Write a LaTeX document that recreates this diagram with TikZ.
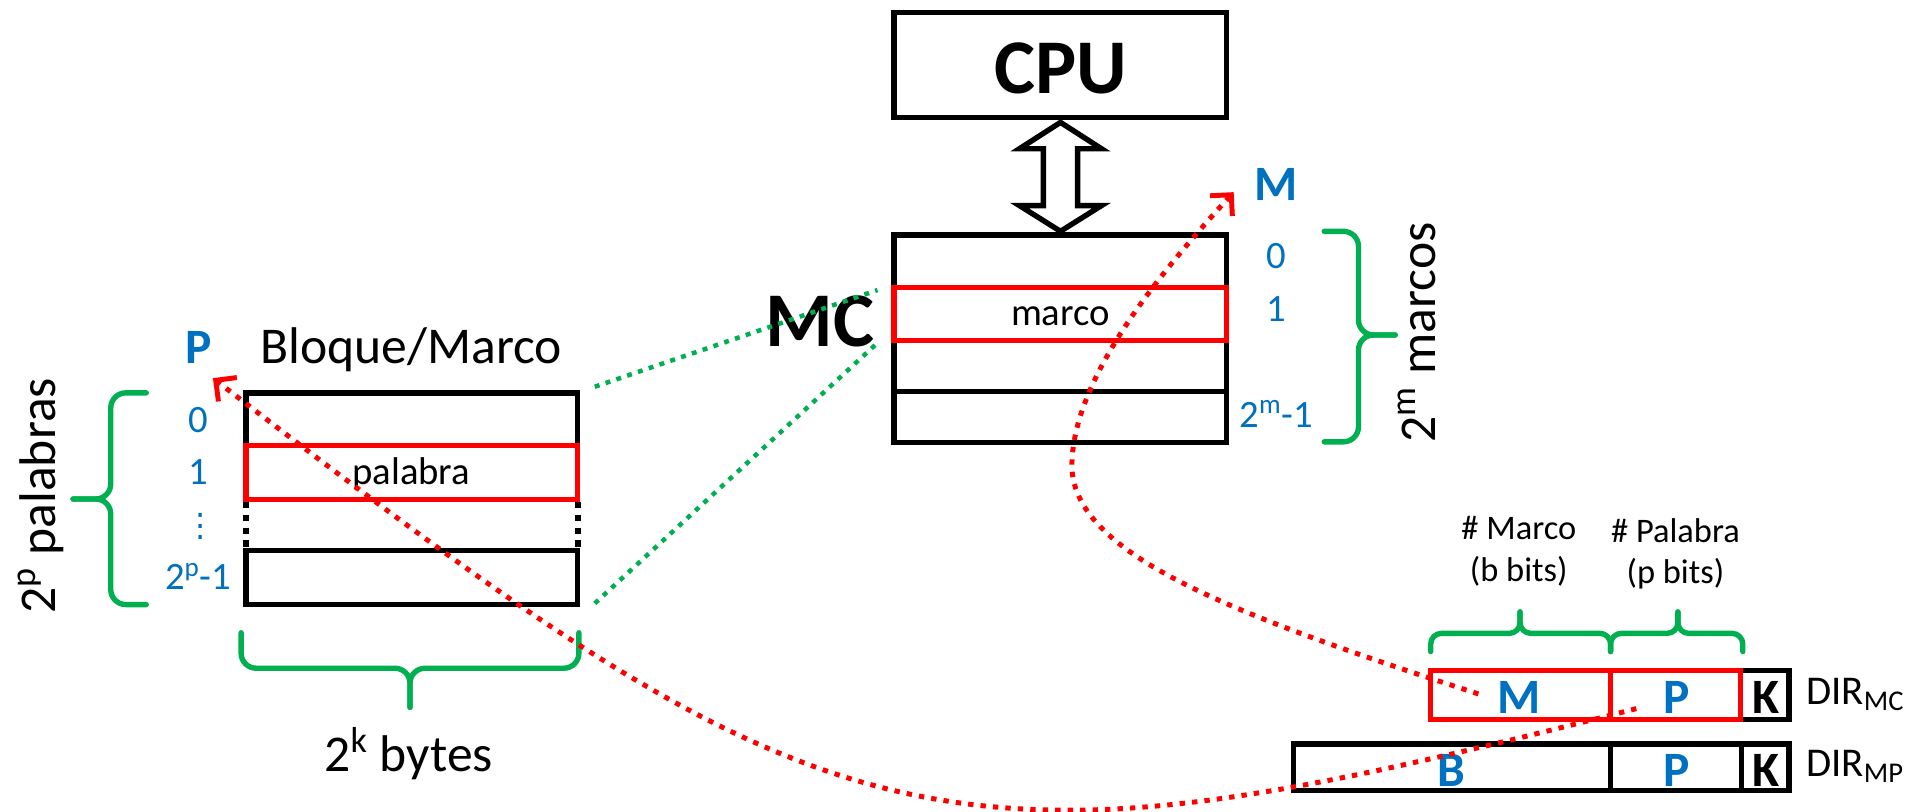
\documentclass[tikz,border=0pt]{standalone}
\usepackage{fontspec}
\setmainfont{Carlito}
\newfontfamily\djv{DejaVu Sans}
\usetikzlibrary{arrows.meta}
\definecolor{cblue}{HTML}{0070C0}
\definecolor{cgreen}{HTML}{00B050}
\definecolor{cred}{HTML}{FF0000}
\newcommand{\fsz}[1]{\fontsize{#1}{#1}\selectfont}
\begin{document}
\begin{tikzpicture}[x=0.02cm,y=-0.02cm,
  blk/.style={draw=black,line width=2.5pt},
  redb/.style={draw=cred,line width=2.5pt},
  gbr/.style={draw=cgreen,line width=2.5pt,line cap=round,rounded corners=#1},
  gbr/.default=7pt,
  gdot/.style={draw=cgreen,line width=2.1pt,dash pattern=on 2.3pt off 3pt},
  rdot/.style={draw=cred,line width=2.3pt,dash pattern=on 2.5pt off 3.3pt,-{Straight Barb[length=7pt,width=14pt]}},
  big/.style={font=\fsz{36}\bfseries,inner sep=0},
  t24/.style={font=\fsz{24},inner sep=0},
  t18/.style={font=\fsz{18},inner sep=0},
  t19/.style={font=\fsz{19},inner sep=0},
  t16/.style={font=\fsz{16},inner sep=0},
  bl23b/.style={font=\fsz{23}\bfseries,text=cblue,inner sep=0},
  k23b/.style={font=\fsz{23}\bfseries,text=black,inner sep=0},
  bl18/.style={font=\fsz{18},text=cblue,inner sep=0}
]
\useasboundingbox (0,0) rectangle (1568,663);

% CPU
\draw[blk] (730.5,10) rectangle (1002,96);
\node[big, anchor=base] (cpu) at (866.5,76) {CPU};
% double arrow
\draw[blk, fill=white, line join=miter] (866.5,100) -- (900,121.5) -- (880.5,121.5) -- (880.5,168) -- (900,168) -- (866.5,189) -- (833,168) -- (852.5,168) -- (852.5,121.5) -- (833,121.5) -- cycle;

% MC
\draw[blk] (730.5,192) rectangle (1002,361.5);
\draw[blk] (730.5,320) -- (1002,320);
\draw[redb] (730.5,235) rectangle (1002,278);
\node[t18, anchor=base] (marco) at (866.5,265.6) {marco};
\node[big, anchor=base] (mc) at (670,283.5) {MC};

\node[bl23b, anchor=base] (Mlab) at (1043,163.5) {M};
\node[bl18, anchor=base] (m0) at (1043,219) {0};
\node[bl18, anchor=base] (m1) at (1043,263) {1};
\node[bl18, anchor=base] (mn) at (1043,349) {2\textsuperscript{m}-1};
\draw[gbr] (1082,189) -- (1110,189) -- (1110,273.7) -- (1140,273.7);
\draw[gbr] (1082,361) -- (1110,361) -- (1110,273.7) -- (1140,273.7);
\node[t24, anchor=base, rotate=90] (mm) at (1172.6,271.7) {2\textsuperscript{m} marcos};

% left block
\draw[blk] (201,364) -- (201,321) -- (472,321) -- (472,364);
\draw[redb] (201,364) rectangle (472,408);
\draw[blk, line width=2.9pt, dash pattern=on 2.8pt off 3.2pt] (201,410) -- (201,450) (472,410) -- (472,450);
\draw[blk] (201,450) rectangle (472,494);
\node[t18, anchor=base] (pal) at (336,396) {palabra};
\node[t24, anchor=base] (bm) at (336,297) {Bloque/Marco};

\node[bl23b, anchor=base] (Plab) at (162,296.8) {P};
\node[bl18, anchor=base] (p0) at (162,353) {0};
\node[bl18, anchor=base] (p1) at (162,396) {1};
\node[text=cblue, font=\fsz{15}\djv, inner sep=0] (pd) at (164,430) {⋮};
\node[bl18, anchor=base] (pn) at (162,482) {2\textsuperscript{p}-1};

\draw[gbr] (119.5,321) -- (90.5,321) -- (90.5,407.7) -- (59.7,407.7);
\draw[gbr] (119.5,494) -- (90.5,494) -- (90.5,407.7) -- (59.7,407.7);
\node[t24, anchor=base, rotate=90] (pp) at (45,405) {2\textsuperscript{p} palabras};
\draw[gbr] (197,517) -- (197,546) -- (335,546) -- (335,578);
\draw[gbr] (473,517) -- (473,546) -- (335,546) -- (335,578);
\node[t24, anchor=base] (kb) at (334,630.5) {2\textsuperscript{k} bytes};

% green dotted connectors
\coordinate (g1a) at (486,316); \coordinate (g1b) at (717,237);
\coordinate (g2a) at (486,493); \coordinate (g2b) at (715,282);
\draw[gdot] (g1a) -- (g1b);
\draw[gdot] (g2a) -- (g2b);

% DIR registers
\draw[blk] (1422,548) rectangle (1461.7,588);
\draw[redb] (1169,548) rectangle (1422,588);
\draw[redb] (1316,548) -- (1316,588);
\draw[blk] (1057,608) rectangle (1461.7,646);
\draw[blk] (1316,608) -- (1316,646) (1423,608) -- (1423,646);

\node[bl23b, anchor=base] (dm) at (1241.6,582.8) {M};
\node[bl23b, anchor=base] (dp1) at (1370,582.8) {P};
\node[k23b, anchor=base] (dk1) at (1443,582.8) {K};
\node[bl23b, anchor=base] (db) at (1185.7,642.8) {B};
\node[bl23b, anchor=base] (dp2) at (1370,642.8) {P};
\node[k23b, anchor=base] (dk2) at (1443,642.8) {K};
\node[t19, anchor=base west] (dirmc) at (1475.6,576) {DIR\textsubscript{MC}};
\node[t19, anchor=base west] (dirmp) at (1475.6,634.6) {DIR\textsubscript{MP}};

\draw[gbr=5pt] (1169,532.4) -- (1169,517.5) -- (1242,517.5) -- (1242,500);
\draw[gbr=5pt] (1316,532.4) -- (1316,517.5) -- (1242,517.5) -- (1242,500);
\draw[gbr=5pt] (1316,532.4) -- (1316,517.5) -- (1371,517.5) -- (1371,500);
\draw[gbr=5pt] (1424,532.4) -- (1424,517.5) -- (1371,517.5) -- (1371,500);
\node[t16, anchor=base] (hm) at (1241,441) {\# Marco};
\node[t16, anchor=base] (bb) at (1241,475) {(b bits)};
\node[t16, anchor=base] (hp) at (1369,443) {\# Palabra};
\node[t16, anchor=base] (pb) at (1369,476.6) {(p bits)};

% red dotted curves
\coordinate (c1s) at (1208,567); \coordinate (c1e) at (1008,157);
\draw[rdot] (c1s) .. controls (1000,500) and (870,450) .. (876,375) .. controls (880,300) and (960,210) .. (c1e);
\coordinate (c2s) at (1337,579); \coordinate (c2e) at (174,309);
\draw[rdot] (c2s) .. controls (1130,632) and (990,662) .. (873,662) .. controls (650,662) and (500,560) .. (c2e);
\end{tikzpicture}
\end{document}
